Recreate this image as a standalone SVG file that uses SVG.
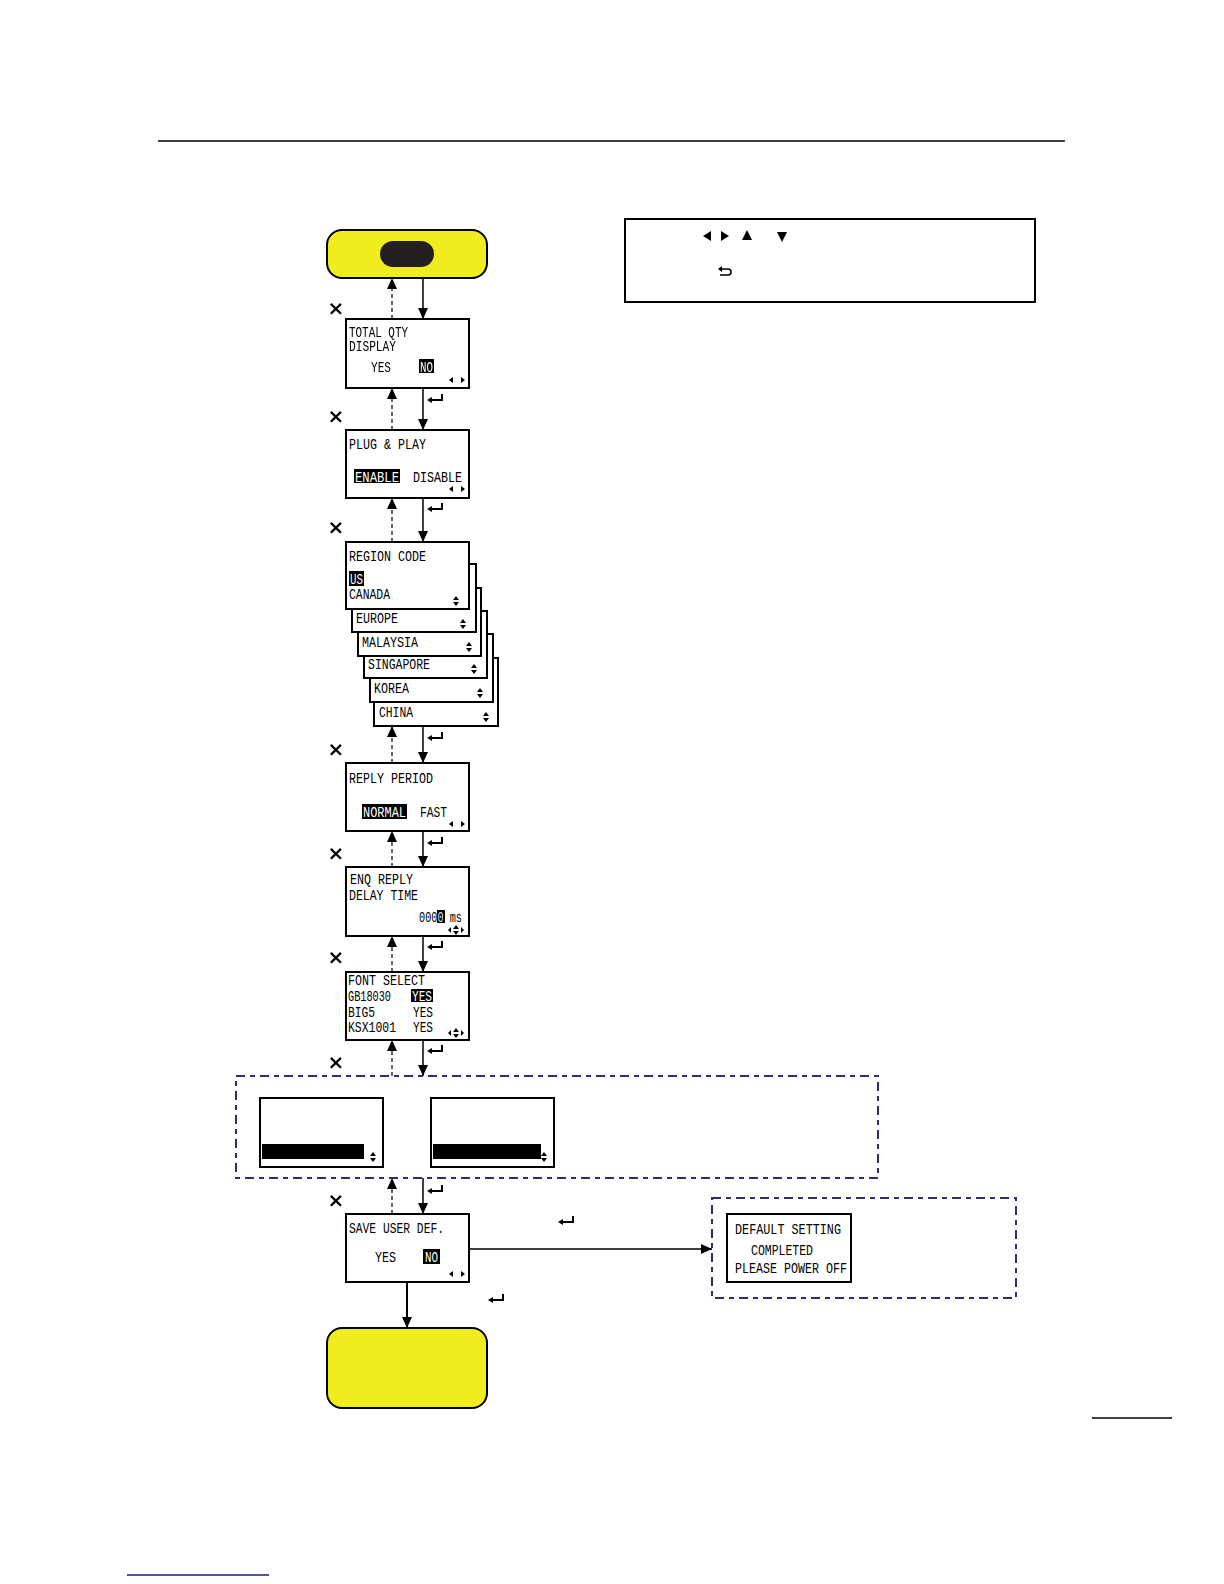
<svg xmlns="http://www.w3.org/2000/svg" xmlns:xlink="http://www.w3.org/1999/xlink" width="1224" height="1584" viewBox="0 0 1224 1584">
<style>
.bx{fill:#fff;stroke:#000;stroke-width:2}
.lcd{font-family:"Liberation Mono","DejaVu Sans Mono",monospace;font-size:15px;fill:#000}
.inv{fill:#fff}
.hl{fill:#000}
.sol{stroke:#000;stroke-width:1.5;fill:none}
.dsh{stroke:#000;stroke-width:1.2;fill:none;stroke-dasharray:4 3}
.reg{fill:none;stroke:#2b2b78;stroke-width:2;stroke-dasharray:9 5 5 5}
.yel{fill:#f0ec1e;stroke:#000;stroke-width:2}
.x{font-family:"DejaVu Sans",sans-serif;font-size:20px;font-weight:bold;fill:#000}
.tri{fill:#000}
</style>
<defs>
<marker id="ah" markerUnits="userSpaceOnUse" markerWidth="12" markerHeight="12" refX="11" refY="5" orient="auto">
<path d="M0,0 L11,5 L0,10 Z" fill="#000"/>
</marker>
<symbol id="ent" overflow="visible">
<path d="M7,-3 V3 H-4" stroke="#000" stroke-width="2" fill="none"/>
<path d="M-8,3 L-3,0 L-3,6 Z" fill="#000"/>
</symbol>
<symbol id="lr" overflow="visible">
<path d="M-8,0 L-4,-3 L-4,3 Z M8,0 L4,-3 L4,3 Z" fill="#000"/>
</symbol>
<symbol id="ud" overflow="visible">
<path d="M0,-5 L-3,-1 L3,-1 Z M0,5 L-3,1 L3,1 Z" fill="#000"/>
</symbol>
<symbol id="lud" overflow="visible">
<path d="M0,-5 L-3,-1 L3,-1 Z M0,5 L-3,1 L3,1 Z M-8,0 L-5,-3 L-5,3 Z M8,0 L5,-3 L5,3 Z" fill="#000"/>
</symbol>
</defs>

<line x1="158" y1="141" x2="1065" y2="141" stroke="#000" stroke-width="1.5"/>
<line x1="1092" y1="1418" x2="1172" y2="1418" stroke="#000" stroke-width="1.5"/>
<line x1="127" y1="1575" x2="269" y2="1575" stroke="#1a1a80" stroke-width="1.5"/>

<g id="legend">
<rect x="625" y="219" width="410" height="83" fill="#fff" stroke="#000" stroke-width="2"/>
<path class="tri" d="M703,236 L711,231 L711,241 Z"/>
<path class="tri" d="M729,236 L721,231 L721,241 Z"/>
<path class="tri" d="M747,230 L752,240 L742,240 Z"/>
<path class="tri" d="M782,242 L777,232 L787,232 Z"/>
<path d="M721,269 H728 A3,3 0 0 1 728,275 H720" stroke="#000" stroke-width="1.6" fill="none"/>
<path class="tri" d="M718,269 L722,266 L722,272 Z"/>
</g>

<g id="start">
<rect class="yel" x="327" y="230" width="160" height="48" rx="15"/>
<rect x="380" y="241" width="54" height="26" rx="13" fill="#231f20"/>
</g>

<g id="connectors">
<line class="sol" x1="423" y1="278" x2="423" y2="319" marker-end="url(#ah)"/>
<line class="dsh" x1="392" y1="319" x2="392" y2="278" marker-end="url(#ah)"/>
<line class="sol" x1="423" y1="388" x2="423" y2="430" marker-end="url(#ah)"/>
<line class="dsh" x1="392" y1="430" x2="392" y2="388" marker-end="url(#ah)"/>
<line class="sol" x1="423" y1="498" x2="423" y2="542" marker-end="url(#ah)"/>
<line class="dsh" x1="392" y1="542" x2="392" y2="498" marker-end="url(#ah)"/>
<line class="sol" x1="423" y1="726" x2="423" y2="763" marker-end="url(#ah)"/>
<line class="dsh" x1="392" y1="763" x2="392" y2="726" marker-end="url(#ah)"/>
<line class="sol" x1="423" y1="831" x2="423" y2="867" marker-end="url(#ah)"/>
<line class="dsh" x1="392" y1="867" x2="392" y2="831" marker-end="url(#ah)"/>
<line class="sol" x1="423" y1="936" x2="423" y2="972" marker-end="url(#ah)"/>
<line class="dsh" x1="392" y1="972" x2="392" y2="936" marker-end="url(#ah)"/>
<line class="sol" x1="423" y1="1040" x2="423" y2="1076" marker-end="url(#ah)"/>
<line class="dsh" x1="392" y1="1076" x2="392" y2="1040" marker-end="url(#ah)"/>
<line class="sol" x1="423" y1="1178" x2="423" y2="1214" marker-end="url(#ah)"/>
<line class="dsh" x1="392" y1="1214" x2="392" y2="1178" marker-end="url(#ah)"/>
<line class="sol" x1="469" y1="1249" x2="712" y2="1249" marker-end="url(#ah)"/>
<line x1="407" y1="1282" x2="407" y2="1328" stroke="#000" stroke-width="2" marker-end="url(#ah)"/>
<use href="#ent" x="435" y="397"/>
<use href="#ent" x="435" y="506"/>
<use href="#ent" x="435" y="735"/>
<use href="#ent" x="435" y="840"/>
<use href="#ent" x="435" y="944"/>
<use href="#ent" x="435" y="1048"/>
<use href="#ent" x="435" y="1188"/>
<use href="#ent" x="566" y="1219"/>
<use href="#ent" x="496" y="1297"/>
<text class="x" x="336" y="308" text-anchor="middle" dominant-baseline="central">×</text>
<text class="x" x="336" y="416" text-anchor="middle" dominant-baseline="central">×</text>
<text class="x" x="336" y="527" text-anchor="middle" dominant-baseline="central">×</text>
<text class="x" x="336" y="749" text-anchor="middle" dominant-baseline="central">×</text>
<text class="x" x="336" y="853" text-anchor="middle" dominant-baseline="central">×</text>
<text class="x" x="336" y="957" text-anchor="middle" dominant-baseline="central">×</text>
<text class="x" x="336" y="1062" text-anchor="middle" dominant-baseline="central">×</text>
<text class="x" x="336" y="1200" text-anchor="middle" dominant-baseline="central">×</text>
</g>

<g id="total-qty">
<rect class="bx" x="346" y="319" width="123" height="69"/>
<text class="lcd" x="349" y="337" textLength="59" lengthAdjust="spacingAndGlyphs">TOTAL QTY</text>
<text class="lcd" x="349" y="351" textLength="47" lengthAdjust="spacingAndGlyphs">DISPLAY</text>
<text class="lcd" x="371" y="372" textLength="20" lengthAdjust="spacingAndGlyphs">YES</text>
<rect class="hl" x="419" y="359" width="15" height="14"/>
<text class="lcd inv" x="420" y="372" textLength="13" lengthAdjust="spacingAndGlyphs">NO</text>
<use href="#lr" x="457" y="380"/>
</g>

<g id="plug-play">
<rect class="bx" x="346" y="430" width="123" height="68"/>
<text class="lcd" x="349" y="449" textLength="77" lengthAdjust="spacingAndGlyphs">PLUG &amp; PLAY</text>
<rect class="hl" x="354" y="469" width="46" height="14"/>
<text class="lcd inv" x="355" y="482" textLength="44" lengthAdjust="spacingAndGlyphs">ENABLE</text>
<text class="lcd" x="413" y="482" textLength="49" lengthAdjust="spacingAndGlyphs">DISABLE</text>
<use href="#lr" x="457" y="489"/>
</g>

<g id="region-china">
<rect class="bx" x="374" y="658" width="124" height="68"/>
<text class="lcd" x="379" y="717" textLength="34" lengthAdjust="spacingAndGlyphs">CHINA</text>
<use href="#ud" x="486" y="717"/>
</g>
<g id="region-korea">
<rect class="bx" x="370" y="634" width="123" height="68"/>
<text class="lcd" x="374" y="693" textLength="35" lengthAdjust="spacingAndGlyphs">KOREA</text>
<use href="#ud" x="480" y="693"/>
</g>
<g id="region-singapore">
<rect class="bx" x="364" y="611" width="123" height="67"/>
<text class="lcd" x="368" y="669" textLength="62" lengthAdjust="spacingAndGlyphs">SINGAPORE</text>
<use href="#ud" x="474" y="669"/>
</g>
<g id="region-malaysia">
<rect class="bx" x="358" y="588" width="123" height="68"/>
<text class="lcd" x="362" y="647" textLength="56" lengthAdjust="spacingAndGlyphs">MALAYSIA</text>
<use href="#ud" x="469" y="647"/>
</g>
<g id="region-europe">
<rect class="bx" x="352" y="564" width="124" height="68"/>
<text class="lcd" x="356" y="623" textLength="42" lengthAdjust="spacingAndGlyphs">EUROPE</text>
<use href="#ud" x="463" y="624"/>
</g>
<g id="region-code">
<rect class="bx" x="346" y="542" width="123" height="67"/>
<text class="lcd" x="349" y="561" textLength="77" lengthAdjust="spacingAndGlyphs">REGION CODE</text>
<rect class="hl" x="349" y="571" width="15" height="15"/>
<text class="lcd inv" x="350" y="584" textLength="13" lengthAdjust="spacingAndGlyphs">US</text>
<text class="lcd" x="349" y="599" textLength="41" lengthAdjust="spacingAndGlyphs">CANADA</text>
<use href="#ud" x="456" y="601"/>
</g>

<g id="reply-period">
<rect class="bx" x="346" y="763" width="123" height="68"/>
<text class="lcd" x="349" y="783" textLength="84" lengthAdjust="spacingAndGlyphs">REPLY PERIOD</text>
<rect class="hl" x="362" y="804" width="45" height="15"/>
<text class="lcd inv" x="363" y="817" textLength="43" lengthAdjust="spacingAndGlyphs">NORMAL</text>
<text class="lcd" x="420" y="817" textLength="27" lengthAdjust="spacingAndGlyphs">FAST</text>
<use href="#lr" x="457" y="824"/>
</g>

<g id="enq-reply">
<rect class="bx" x="346" y="867" width="123" height="69"/>
<text class="lcd" x="350" y="884" textLength="63" lengthAdjust="spacingAndGlyphs">ENQ REPLY</text>
<text class="lcd" x="349" y="900" textLength="69" lengthAdjust="spacingAndGlyphs">DELAY TIME</text>
<text class="lcd" x="419" y="922" textLength="43" lengthAdjust="spacingAndGlyphs">0000 ms</text>
<rect x="437" y="910" width="8" height="13" fill="#fff" style="mix-blend-mode:difference"/>
<use href="#lud" x="456" y="930"/>
</g>

<g id="font-select">
<rect class="bx" x="346" y="972" width="123" height="68"/>
<text class="lcd" x="348" y="985" textLength="77" lengthAdjust="spacingAndGlyphs">FONT SELECT</text>
<text class="lcd" x="348" y="1001" textLength="43" lengthAdjust="spacingAndGlyphs">GB18030</text>
<rect class="hl" x="411" y="989" width="22" height="13"/>
<text class="lcd inv" x="412" y="1001" textLength="20" lengthAdjust="spacingAndGlyphs">YES</text>
<text class="lcd" x="348" y="1017" textLength="27" lengthAdjust="spacingAndGlyphs">BIG5</text>
<text class="lcd" x="413" y="1017" textLength="20" lengthAdjust="spacingAndGlyphs">YES</text>
<text class="lcd" x="348" y="1032" textLength="48" lengthAdjust="spacingAndGlyphs">KSX1001</text>
<text class="lcd" x="413" y="1032" textLength="20" lengthAdjust="spacingAndGlyphs">YES</text>
<use href="#lud" x="456" y="1033"/>
</g>

<g id="region-group">
<rect class="reg" x="236" y="1076" width="642" height="102"/>
<rect class="bx" x="260" y="1098" width="123" height="69"/>
<rect class="hl" x="262" y="1144" width="102" height="15"/>
<use href="#ud" x="373" y="1157"/>
<rect class="bx" x="431" y="1098" width="123" height="69"/>
<rect class="hl" x="433" y="1144" width="108" height="15"/>
<use href="#ud" x="544" y="1157"/>
</g>

<g id="save-user-def">
<rect class="bx" x="346" y="1214" width="123" height="68"/>
<text class="lcd" x="349" y="1233" textLength="95" lengthAdjust="spacingAndGlyphs">SAVE USER DEF.</text>
<text class="lcd" x="375" y="1262" textLength="21" lengthAdjust="spacingAndGlyphs">YES</text>
<rect class="hl" x="423" y="1249" width="17" height="15"/>
<text class="lcd inv" x="425" y="1262" textLength="13" lengthAdjust="spacingAndGlyphs">NO</text>
<use href="#lr" x="457" y="1274"/>
</g>

<g id="default-setting">
<rect class="reg" x="712" y="1198" width="304" height="100"/>
<rect class="bx" x="727" y="1214" width="124" height="68"/>
<text class="lcd" x="735" y="1234" textLength="106" lengthAdjust="spacingAndGlyphs">DEFAULT SETTING</text>
<text class="lcd" x="751" y="1255" textLength="62" lengthAdjust="spacingAndGlyphs">COMPLETED</text>
<text class="lcd" x="735" y="1273" textLength="112" lengthAdjust="spacingAndGlyphs">PLEASE POWER OFF</text>
</g>

<g id="end">
<rect class="yel" x="327" y="1328" width="160" height="80" rx="15"/>
</g>
</svg>
